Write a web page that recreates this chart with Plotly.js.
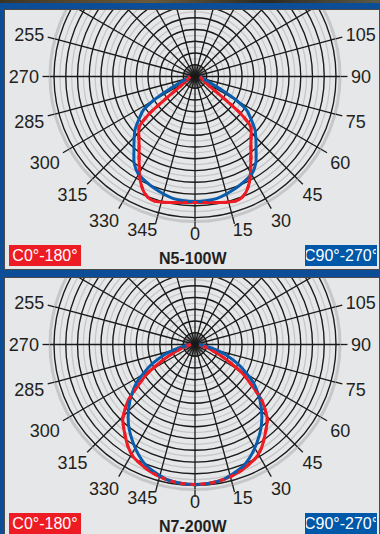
<!DOCTYPE html>
<html><head><meta charset="utf-8">
<script src="https://cdn.plot.ly/plotly-3.0.1.min.js"></script>
<style>
html,body{margin:0;padding:0;width:380px;height:534px;overflow:hidden;background:#0b4d97;position:relative;}
#photo{position:absolute;left:0;top:0;width:380px;height:3px;background:linear-gradient(90deg,#3b3426,#6b5a3a 40%,#2a2a22 70%,#5a5a48);}
.panel{position:absolute;left:4px;width:376px;background:#e6e7e8;overflow:hidden;border:1px solid #4a4a4a;box-sizing:border-box;}
#p1{top:9px;height:261px;}
#p2{top:277px;height:259px;}
.plot{position:absolute;left:0;top:-143px;width:375px;height:420px;}
</style></head>
<body>
<div id="photo"></div>
<div class="panel" id="p1"><div class="plot" id="g1"></div></div>
<div class="panel" id="p2"><div class="plot" id="g2"></div></div>
<script>
// ---- angular ticks ----
const angleTicks = [0,15,30,45,60,75,90,105,120,135,150,165,180,195,210,225,240,255,270,285,300,315,330,345];
// visible labels, split by where they sit round the dial (the upper ones fall outside the panel)
const sideTicks  = [60,75,90,105,255,270,285,300];
const sideLabels = ['60','75','90','105','255','270','285','300'];
const diagTicks  = [30,45,315,330];
const diagLabels = ['30','45','315','330'];
const lowTicks   = [0,15,345];
const lowLabels  = ['0','15','345'];
const seriesNames = ['C0°-180°','C90°-270°'];
const chartTitles = ['N5-100W','N7-200W'];

// ---- N5-100W (half curves, angle from nadir; mirrored for the other half) ----
const n5RedAngle = [0,5,10,15,18,21,24,27,30,35,40,45,48,51,53,56,60,70,80,90];
const n5RedR     = [126,126.5,128,130,131,130,126,119.5,111,97.5,87,79.5,75,58,35,18,12,8,6,5];
const n5BlueAngle = [0,10,20,25,30,35,40,45,48.5,52,57,60,63,66,70,80,90];
const n5BlueR     = [125,124,119,116,113,106,95,86,80,72,61.5,48,31,20,13,7,5];

// ---- N7-200W ----
const n7RedAngle = [0,6,12,19.5,25,29,33,37,41,44,47,50,53.6,58.4,62.8,67,72.6,80,90];
const n7RedR     = [140,139.5,138,134.7,131,128,122.5,115.6,109,104,96,87.3,72.4,56.7,39.4,27,15.7,8,4];
const n7BlueAngle = [0,6,11.7,16,21.5,27,32.3,38,43,49.3,53,56.9,62.8,66,69.6,74,78.7,85,90];
const n7BlueR     = [140,139.5,138,135,131,124,116,107,98,85.8,78,69.6,54,46,37,26,15.3,8,4];

const RED = '#ed1c24', BLUE = '#0a5cad';
const R_MAX = 145, GRID = 11.75;

function mirror(ang, r){
  const t = [], rr = [];
  for(let i = ang.length-1; i > 0; i--){ t.push(-ang[i]); rr.push(r[i]); }
  for(let i = 0; i < ang.length; i++){ t.push(ang[i]); rr.push(r[i]); }
  return {t, rr};
}

function build(divId, redA, redR, blueA, blueR, title){
  const red = mirror(redA, redR), blue = mirror(blueA, blueR);
  const cx = 190/375, cy = 1 - 209.5/420;
  const dom = (rad) => ({x:[cx-rad/375, cx+rad/375], y:[cy-rad/420, cy+rad/420]});
  const lineStyle = (c, w, d) => ({color:c, width:w, dash:d||'solid', shape:'spline', smoothing:0.7});
  const empty = (sp) => ({type:'scatterpolar', r:[], theta:[], subplot:sp, showlegend:false, hoverinfo:'skip'});
  const data = [
    empty('polar'), empty('polar2'),
    {type:'scatterpolar', mode:'lines', r:red.rr, theta:red.t, subplot:'polar3', name:seriesNames[0], line:lineStyle(RED,3), showlegend:false},
    {type:'scatterpolar', mode:'lines', r:blue.rr, theta:blue.t, subplot:'polar3', name:seriesNames[1], line:lineStyle(BLUE,3), showlegend:false},
    {type:'scatterpolar', mode:'lines', r:red.rr, theta:red.t, subplot:'polar3', name:seriesNames[0], line:lineStyle(RED,3,'5px,5px'), showlegend:false},
    empty('polar4'), empty('polar5'), empty('polar6')
  ];
  const ang = {rotation:-90, direction:'counterclockwise'};
  const hiddenRadial = {range:[0,1], visible:false, showgrid:false};
  const labelAxis = (vals, txt, pad) => Object.assign({tickmode:'array', tickvals:vals, ticktext:txt, showgrid:false, showline:false,
      tickfont:{size:18, color:'#231f20'}},
      pad > 0 ? {ticks:'outside', ticklen:pad, tickcolor:'rgba(0,0,0,0)'} : {ticks:''}, ang);
  const layout = {
    width:375, height:420, margin:{l:0,r:0,t:0,b:0},
    paper_bgcolor:'rgba(0,0,0,0)', showlegend:false,
    font:{family:'"Liberation Sans", Arial, sans-serif', color:'#231f20'},
    polar:{domain:dom(R_MAX), bgcolor:'#e6e7e8',
      radialaxis:{range:[0,R_MAX], dtick:GRID/2, showgrid:true, gridcolor:'#c6c7c9', gridwidth:1.3, showline:false, ticks:'', showticklabels:false},
      angularaxis:Object.assign({showgrid:false, showline:true, linecolor:'#c6c7c9', linewidth:3, ticks:'', showticklabels:false}, ang)},
    polar2:{domain:dom(GRID), bgcolor:'rgba(0,0,0,0)', radialaxis:hiddenRadial,
      angularaxis:Object.assign({dtick:7.5, showgrid:true, gridcolor:'#1a1a1a', gridwidth:0.6, showline:false, ticks:'', showticklabels:false}, ang)},
    polar3:{domain:dom(R_MAX), bgcolor:'rgba(0,0,0,0)',
      radialaxis:{range:[0,R_MAX], dtick:GRID, showgrid:true, gridcolor:'#1a1a1a', gridwidth:1.3, showline:false, ticks:'', showticklabels:false},
      angularaxis:Object.assign({tickmode:'array', tickvals:angleTicks, showgrid:true, gridcolor:'#1a1a1a', gridwidth:1.3,
        showline:false, ticks:'outside', ticklen:7, tickwidth:1.3, tickcolor:'#1a1a1a', showticklabels:false}, ang)},
    polar4:{domain:dom(R_MAX), bgcolor:'rgba(0,0,0,0)', radialaxis:hiddenRadial, angularaxis:labelAxis(sideTicks, sideLabels, 7)},
    polar5:{domain:dom(R_MAX), bgcolor:'rgba(0,0,0,0)', radialaxis:hiddenRadial, angularaxis:labelAxis(lowTicks, lowLabels, 0)},
    polar6:{domain:dom(R_MAX), bgcolor:'rgba(0,0,0,0)', radialaxis:hiddenRadial, angularaxis:labelAxis(diagTicks, diagLabels, 3)},
    annotations:[
      {xref:'paper', yref:'paper', x:4/375, y:1-378/420, xanchor:'left', yanchor:'top', text:seriesNames[0], showarrow:false,
       bgcolor:RED, width:70, height:19, borderpad:1, borderwidth:0, font:{size:16, color:'#ffffff'}},
      {xref:'paper', yref:'paper', x:372/375, y:1-378/420, xanchor:'right', yanchor:'top', text:seriesNames[1], showarrow:false,
       bgcolor:'#0058a8', width:70, height:19, borderpad:1, borderwidth:0, font:{size:16, color:'#ffffff'}},
      {xref:'paper', yref:'paper', x:188/375, y:1-391/420, xanchor:'center', yanchor:'middle', text:'<b>'+title+'</b>', showarrow:false,
       font:{size:16, color:'#231f20'}}
    ]
  };
  Plotly.newPlot(divId, data, layout, {staticPlot:true, displayModeBar:false});
}
build('g1', n5RedAngle, n5RedR, n5BlueAngle, n5BlueR, chartTitles[0]);
build('g2', n7RedAngle, n7RedR, n7BlueAngle, n7BlueR, chartTitles[1]);
</script>
</body></html>
